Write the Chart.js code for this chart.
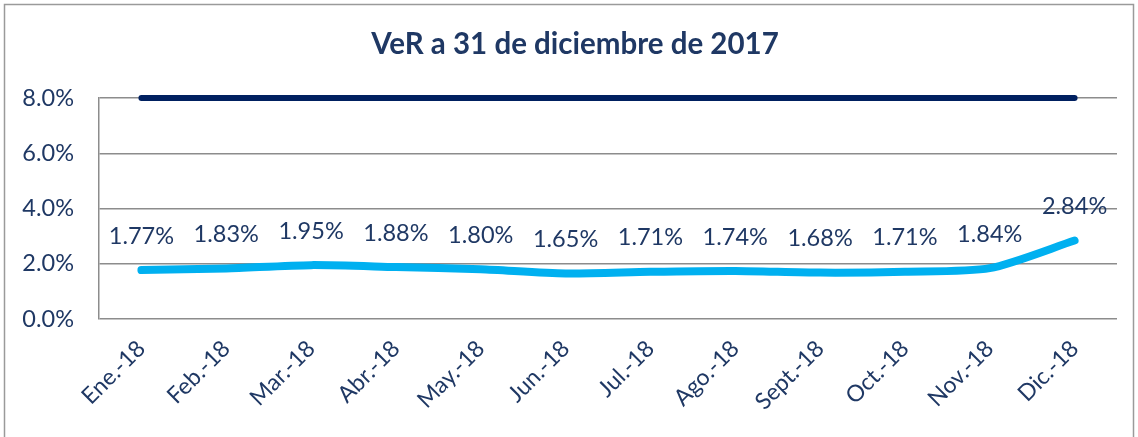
<!DOCTYPE html>
<html>
<head>
<meta charset="utf-8">
<script src="https://cdn.jsdelivr.net/npm/chart.js@4.4.1/dist/chart.umd.min.js"></script>
<style>
  body { margin: 0; background: #fff; }
  #wrap { width: 1138px; height: 437px; }
</style>
</head>
<body>
<div id="wrap"><canvas id="myChart" width="1138" height="437"></canvas></div>
<script>
// data
const months = ["Ene.-18", "Feb.-18", "Mar.-18", "Abr.-18", "May.-18", "Jun.-18",
  "Jul.-18", "Ago.-18", "Sept.-18", "Oct.-18", "Nov.-18", "Dic.-18"];
const ver = [1.77, 1.83, 1.95, 1.88, 1.80, 1.65, 1.71, 1.74, 1.68, 1.71, 1.84, 2.84];
const limite = [8, 8, 8, 8, 8, 8, 8, 8, 8, 8, 8, 8];
const yTicks = [0, 2, 4, 6, 8];
const title = "VeR a 31 de diciembre de 2017";

const navy = "#002060";
const txt = "#1F3864";
const font = "Lato";

// frame, title and the value labels above the blue line
const extras = {
  id: "extras",
  beforeDraw(chart) {
    const c = chart.ctx;
    c.save();
    c.strokeStyle = "#9a9a9a";
    c.lineWidth = 1.5;
    c.strokeRect(4.5, 4.5, 1129, 440);
    c.font = "bold 29.5px " + font;
    c.fillStyle = txt;
    c.textAlign = "center";
    c.textBaseline = "middle";
    c.fillText(title, 575, 44);
    c.restore();
  },
  afterDatasetsDraw(chart) {
    const c = chart.ctx;
    const meta = chart.getDatasetMeta(1);
    c.save();
    c.font = "23.5px " + font;
    c.fillStyle = txt;
    c.textAlign = "center";
    c.textBaseline = "middle";
    meta.data.forEach((pt, i) => {
      c.fillText(ver[i].toFixed(2) + "%", pt.x, pt.y - 34);
    });
    c.restore();
  }
};

var ctx = document.getElementById("myChart").getContext("2d");
var myChart = new Chart(ctx, {
  type: "line",
  data: {
    labels: months,
    datasets: [{
      label: "Límite",
      data: limite,
      borderColor: navy,
      borderWidth: 6,
      borderCapStyle: "round",
      pointRadius: 0,
      clip: false,
      tension: 0
    }, {
      label: "VeR",
      data: ver,
      borderColor: "#00B0F0",
      borderWidth: 8,
      borderCapStyle: "round",
      borderJoinStyle: "round",
      pointRadius: 0,
      clip: false,
      tension: 0.25
    }]
  },
  options: {
    responsive: false,
    animation: false,
    layout: { padding: { left: 0, right: 21, top: 98, bottom: 0 } },
    plugins: {
      legend: { display: false },
      tooltip: { enabled: false },
      title: { display: false }
    },
    scales: {
      x: {
        offset: true,
        grid: { display: false, drawTicks: false },
        border: { display: false },
        ticks: {
          color: txt,
          font: { family: font, size: 23 },
          minRotation: 45,
          maxRotation: 45,
          padding: 16
        },
        afterFit: (s) => { s.height = 118; }
      },
      y: {
        min: 0,
        max: 8,
        afterBuildTicks: (s) => { s.ticks = yTicks.map(v => ({ value: v })); },
        grid: { color: "#8c8c8c", lineWidth: 1.5, drawTicks: false },
        border: { color: "#8c8c8c", width: 1.5 },
        ticks: {
          color: txt,
          font: { family: font, size: 23.5 },
          padding: 25,
          callback: (v) => v.toFixed(1) + "%"
        },
        afterFit: (s) => { s.width = 99; }
      }
    }
  },
  plugins: [extras]
});
</script>
</body>
</html>
